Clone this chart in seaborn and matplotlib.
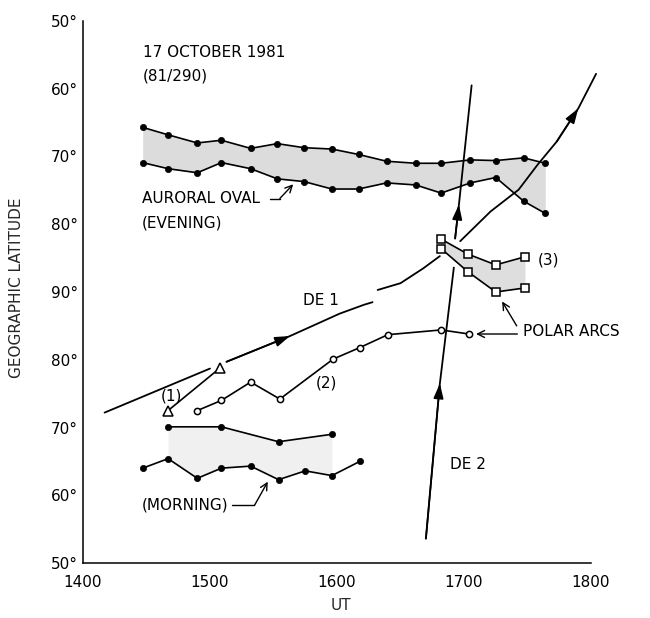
import numpy as np
import pandas as pd
import matplotlib
matplotlib.use("Agg")
import matplotlib.pyplot as plt
import seaborn as sns

# ---------------- data (UT in decimal hours, latitude in degrees) ----------------
# side: 'E' = evening (upper half of axis), 'M' = morning (lower half)
eve_ut = [14.47, 14.67, 14.90, 15.09, 15.32, 15.53, 15.74, 15.96,
          16.17, 16.39, 16.62, 16.82, 17.05, 17.25, 17.47, 17.64]
eve_equator_lat = [65.7, 66.8, 68.0, 67.6, 68.8, 68.1, 68.7, 68.9,
                   69.7, 70.7, 71.0, 71.0, 70.5, 70.6, 70.2, 71.0]
eve_pole_lat = [70.9, 71.8, 72.4, 70.9, 71.8, 73.3, 73.7, 74.8,
                74.8, 73.9, 74.2, 75.4, 73.9, 73.1, 76.6, 78.4]

mor_pole_ut = [14.67, 15.09, 15.54, 15.96]
mor_pole_lat = [70.1, 70.1, 67.9, 69.0]
mor_eq_ut = [14.47, 14.67, 14.90, 15.09, 15.32, 15.54, 15.75, 15.96, 16.18]
mor_eq_lat = [64.0, 65.4, 62.5, 64.0, 64.3, 62.3, 63.6, 62.9, 65.0]

arc1_ut = [14.67, 15.08]
arc1_lat = [72.5, 78.8]                      # morning side
arc2_ut = [14.90, 15.09, 15.32, 15.55, 15.97, 16.18, 16.40, 16.82, 17.04]
arc2_lat = [72.5, 74.0, 76.7, 74.2, 80.1, 81.8, 83.7, 84.4, 83.8]  # morning side
arc3_ut = [16.82, 17.03, 17.25, 17.48]
arc3_a_lat = [82.2, 84.4, 86.0, 84.8]        # evening side
arc3_b_lat = [83.6, 87.0, 90.0, 89.4]        # evening side

de1_ut = [14.17, 15.00, 15.13, 15.63, 16.02, 16.21, 16.28, 16.32, 16.50, 16.68,
          16.81, 16.97, 17.21, 17.43, 17.58, 17.73, 17.90, 18.04]
de1_lat = [72.2, 78.7, 79.7, 83.5, 86.8, 88.1, 88.5, 89.7, 88.7, 86.5,
           84.7, 82.5, 78.1, 74.9, 71.2, 67.8, 62.9, 57.8]
de1_side = ['M', 'M', 'M', 'M', 'M', 'M', 'M', 'E', 'E', 'E',
            'E', 'E', 'E', 'E', 'E', 'E', 'E', 'E']
de1_seg = [0, 0, 1, 1, 1, 1, 1, 2, 2, 2, 2, 3, 3, 3, 3, 3, 3, 3]
de1_arrows = [3, 16]

de2_ut = [16.70, 16.81, 16.92, 16.93, 16.96, 17.06]
de2_lat = [53.6, 76.5, 86.4, 82.1, 77.1, 59.5]
de2_side = ['M', 'M', 'E', 'E', 'E', 'E']
de2_seg = [0, 0, 0, 1, 1, 1]
de2_arrows = [1, 4]

ut_ticks = [14, 15, 16, 17, 18]
ut_labels = ['1400', '1500', '1600', '1700', '1800']
lat_labels = ['50°', '60°', '70°', '80°', '90°', '80°', '70°', '60°', '50°']


def pos(lat, side):
    """Axis position: 0 = 50° morning ... 40 = pole ... 80 = 50° evening."""
    lat = np.asarray(lat, dtype=float)
    return np.where(np.asarray(side) == 'E', 130.0 - lat, lat - 50.0)


sns.set_style("white")
plt.rcParams['font.family'] = ['DejaVu Sans']

fig = plt.figure(figsize=(6.5, 6.18), dpi=100)
ax = fig.add_axes([83 / 650, 55 / 618, (603.7 - 83) / 650, 542 / 618])

# ---------------- fills ----------------
ev_a = pos(eve_equator_lat, 'E')
ev_b = pos(eve_pole_lat, 'E')
ax.fill_between(eve_ut, ev_a, ev_b, color='#dcdcdc', lw=0, zorder=1)

mo_lo = pos(mor_eq_lat, 'M')
mo_hi_x = np.array(mor_pole_ut)
mo_hi = pos(mor_pole_lat, 'M')
mask = (np.array(mor_eq_ut) >= mo_hi_x[0]) & (np.array(mor_eq_ut) <= mo_hi_x[-1])
xs_m = np.array(mor_eq_ut)[mask]
ax.fill_between(xs_m, np.interp(xs_m, mo_hi_x, mo_hi), mo_lo[mask],
                color='#f0f0f0', lw=0, zorder=1)

a3a = pos(arc3_a_lat, 'E')
a3b = pos(arc3_b_lat, 'E')
ax.fill_between(arc3_ut, a3a, a3b, color='#dedede', lw=0, zorder=1)

# ---------------- tracks ----------------
def track(ut, lat, side, seg):
    return pd.DataFrame({'ut': ut, 'y': pos(lat, side), 'seg': seg})

de1 = track(de1_ut, de1_lat, de1_side, de1_seg)
de2 = track(de2_ut, de2_lat, de2_side, de2_seg)
for df, arrows in ((de1, de1_arrows), (de2, de2_arrows)):
    sns.lineplot(data=df, x='ut', y='y', units='seg', estimator=None, sort=False,
                 ax=ax, color='black', lw=1.3, zorder=3)
    for i in arrows:
        ax.annotate('', xy=(df.ut[i], df.y[i]), xytext=(df.ut[i - 1], df.y[i - 1]),
                    arrowprops=dict(arrowstyle='-|>,head_length=0.9,head_width=0.3',
                                    color='black', lw=1.2, shrinkA=0, shrinkB=0),
                    zorder=4)

# ---------------- series ----------------
dot = dict(color='black', lw=1.2, marker='o', markersize=4.5, markeredgecolor='black',
           markeredgewidth=0.5, estimator=None, sort=False, ax=ax, zorder=5)
sns.lineplot(x=eve_ut, y=ev_a, **dot)
sns.lineplot(x=eve_ut, y=ev_b, **dot)
sns.lineplot(x=mor_pole_ut, y=mo_hi, **dot)
sns.lineplot(x=mor_eq_ut, y=mo_lo, **dot)

opn = dict(color='black', lw=1.2, markerfacecolor='white', markeredgecolor='black',
           markeredgewidth=1.1, estimator=None, sort=False, ax=ax, zorder=5)
sns.lineplot(x=arc1_ut, y=pos(arc1_lat, 'M'), marker='^', markersize=7, **opn)
sns.lineplot(x=arc2_ut, y=pos(arc2_lat, 'M'), marker='o', markersize=4.5, **opn)
sns.lineplot(x=arc3_ut, y=a3a, marker='s', markersize=5.5, **opn)
sns.lineplot(x=arc3_ut, y=a3b, marker='s', markersize=5.5, **opn)

# ---------------- axes ----------------
ax.set_xlim(14, 18.1)
ax.set_ylim(0, 80)
ax.set_xticks(ut_ticks)
ax.set_xticklabels(ut_labels)
ax.set_xticks(np.arange(14, 18.01, 0.25), minor=True)
ax.set_yticks(np.arange(0, 81, 10))
ax.set_yticklabels(lat_labels)
ax.set_yticks(np.arange(5, 80, 10), minor=True)
for s in ('top', 'right'):
    ax.spines[s].set_visible(False)
for s in ('left', 'bottom'):
    ax.spines[s].set_linewidth(1.1)
    ax.spines[s].set_color('black')
ax.spines['bottom'].set_bounds(14, 18)
ax.tick_params(axis='y', which='major', direction='in', length=19, width=1.1,
               pad=3.6, labelsize=11, colors='black')
ax.tick_params(axis='y', which='minor', direction='in', length=10, width=1.1)
ax.tick_params(axis='x', which='major', direction='in', length=16.5, width=1.1,
               pad=8.6, labelsize=11, colors='black')
ax.tick_params(axis='x', which='minor', direction='in', length=8.5, width=1.1)
ax.set_xlabel('')
ax.set_ylabel('')
ax.grid(False)

fig.text(17 / 650, 1 - 288 / 618, 'GEOGRAPHIC LATITUDE', rotation=90,
         ha='center', va='center', fontsize=11)
fig.text(341 / 650, 1 - 606 / 618, 'UT', ha='center', va='center', fontsize=11)

# ---------------- annotations ----------------
t = dict(fontsize=11, color='black', va='center', zorder=6)
ax.text(14.47, 75.4, '17 OCTOBER 1981', **t)
ax.text(14.47, 71.9, '(81/290)', **t)
ax.text(14.465, 53.8, 'AURORAL OVAL', **t)
ax.text(14.465, 50.2, '(EVENING)', **t)
ax.text(15.73, 38.7, 'DE 1', **t)
ax.text(14.70, 24.6, '(1)', ha='center', **t)
ax.text(15.92, 26.6, '(2)', ha='center', **t)
ax.text(17.58, 44.7, '(3)', **t)
ax.text(17.465, 34.1, 'POLAR ARCS', **t)
ax.text(16.89, 14.6, 'DE 2', **t)
ax.text(14.465, 8.5, '(MORNING)', **t)

ptr = dict(arrowstyle='->,head_length=0.5,head_width=0.25', color='black', lw=1.0,
           shrinkA=0, shrinkB=0)
# auroral oval (evening) pointer
ax.plot([15.47, 15.55], [53.8, 53.8], color='black', lw=1.0)
ax.annotate('', xy=(15.655, 55.9), xytext=(15.55, 53.8), arrowprops=ptr)
# morning pointer
ax.plot([15.17, 15.35], [8.5, 8.5], color='black', lw=1.0)
ax.annotate('', xy=(15.455, 12.0), xytext=(15.35, 8.5), arrowprops=ptr)
# polar arcs pointers
ax.annotate('', xy=(17.095, 33.8), xytext=(17.42, 33.8), arrowprops=ptr)
ax.annotate('', xy=(17.30, 38.6), xytext=(17.415, 35.0), arrowprops=ptr)

fig.savefig('out.png', dpi=100)
